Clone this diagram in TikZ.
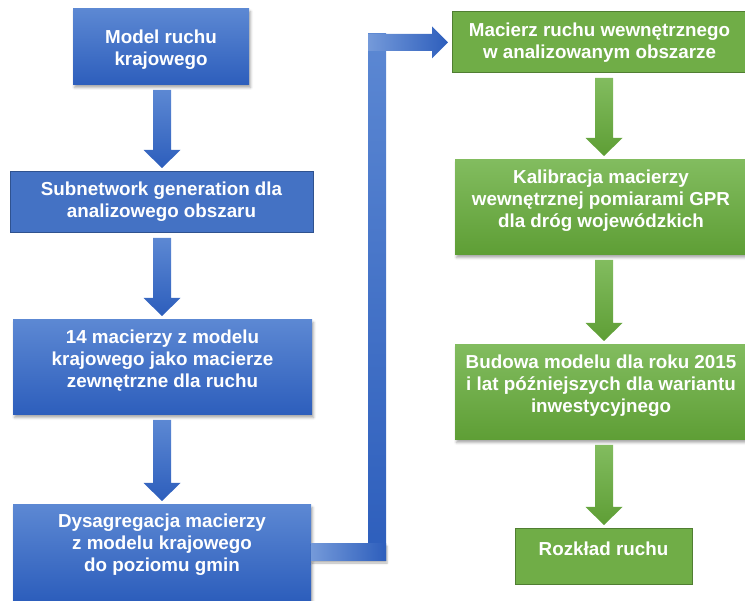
\documentclass[tikz,border=0pt]{standalone}
\usepackage{fontspec}
\setmainfont{Liberation Sans}
\usetikzlibrary{shadows.blur,calc}
\definecolor{bluetop}{HTML}{5C88D3}
\definecolor{bluebot}{HTML}{2D5EBC}
\definecolor{blueflat}{HTML}{4472C4}
\definecolor{blueline}{HTML}{2F528F}
\definecolor{greentop}{HTML}{82BC5F}
\definecolor{greenbot}{HTML}{5E9E35}
\definecolor{greenflat}{HTML}{70AD47}
\definecolor{greenline}{HTML}{507E32}
\newcommand{\vdownarrow}[5]{%
  \shade[top color=#4, bottom color=#5]
    let \p1=($(#1.south)+(0,5)$), \p2=($(#2.north)+(0,-4)$), \p3=(#3) in
    (\x3-9pt,\y1) -- (\x3+9pt,\y1) -- (\x3+9pt,\y2+18pt) -- (\x3+18.5pt,\y2+18pt)
    -- (\x3,\y2) -- (\x3-18.5pt,\y2+18pt) -- (\x3-9pt,\y2+18pt) -- cycle;}
\begin{document}
\begin{tikzpicture}[x=1pt,y=-1pt,
  box/.style={rectangle, inner sep=0pt, outer sep=0pt},
  soft/.style={blur shadow={shadow xshift=1.5pt, shadow yshift=-2.5pt, shadow blur radius=2.5pt, shadow opacity=35}},
  bluegrad/.style={box, soft, top color=bluetop, bottom color=bluebot},
  blueplain/.style={box, fill=blueflat, draw=blueline, line width=1pt},
  greengrad/.style={box, soft, top color=greentop, bottom color=greenbot},
  greenplain/.style={box, fill=greenflat, draw=greenline, line width=1pt},
  txt/.style={text=white, font=\fontsize{18.8}{22}\selectfont\bfseries, align=center, inner sep=0pt},
]
\useasboundingbox (0,0) rectangle (745,601);

% left column boxes
\node[bluegrad, minimum width=176pt, minimum height=76pt] (b1) at (161,47) {};
\node[blueplain, minimum width=303pt, minimum height=61pt] (b2) at (161.5,202.5) {};
\node[bluegrad, minimum width=299pt, minimum height=95pt] (b3) at (162.5,367.5) {};
\node[bluegrad, minimum width=298pt, minimum height=95pt] (b4) at (162,552.5) {};

% right column boxes
\node[greenplain, minimum width=295pt, minimum height=61pt] (g1) at (599.5,42.5) {};
\node[greengrad, minimum width=292pt, minimum height=95pt] (g2) at (601,207.5) {};
\node[greengrad, minimum width=292pt, minimum height=95pt] (g3) at (601,392.5) {};
\node[greenplain, minimum width=177pt, minimum height=56pt] (g4) at (603.5,557) {};

% texts
\node[txt] (t1) at ([yshift=-3pt]b1.center) {Model ruchu\\krajowego};
\node[txt] (t2) at ([yshift=1pt]b2.center) {Subnetwork generation dla\\analizowego obszaru};
\node[txt] (t3) at ([yshift=7pt]b3.center) {14 macierzy z modelu\\krajowego jako macierze\\zewnętrzne dla ruchu};
\node[txt] (t4) at ([yshift=8pt]b4.center) {Dysagregacja macierzy\\z modelu krajowego\\do poziomu gmin};
\node[txt] (t5) at (g1.center) {Macierz ruchu wewnętrznego\\w analizowanym obszarze};
\node[txt] (t6) at ([yshift=7pt]g2.center) {Kalibracja macierzy\\wewnętrznej pomiarami GPR\\dla dróg wojewódzkich};
\node[txt] (t7) at ([yshift=7pt]g3.center) {Budowa modelu dla roku 2015\\i lat późniejszych dla wariantu\\inwestycyjnego};
\node[txt] (t8) at ([yshift=8pt]g4.center) {Rozkład ruchu};

% axis coordinates for the block arrows
\coordinate (bx) at (162,0);
\coordinate (gx) at (604,0);
\coordinate (elbowx) at (377,0);

% vertical block arrows
\vdownarrow{b1}{b2}{bx}{bluetop}{bluebot}
\vdownarrow{b2}{b3}{bx}{bluetop}{bluebot}
\vdownarrow{b3}{b4}{bx}{bluetop}{bluebot}
\vdownarrow{g1}{g2}{gx}{greentop}{greenbot}
\vdownarrow{g2}{g3}{gx}{greentop}{greenbot}
\vdownarrow{g3}{g4}{gx}{greentop}{greenbot}

% elbow arrow from left column to right column: vertical part
\shade[top color=bluetop, bottom color=bluebot]
  let \p1=(b4.east), \p2=($(g1.west)+(-4,0)$), \p3=(elbowx) in
  (\x3-9pt,\y1-8.5pt) rectangle (\x3+9pt,\y2+8.5pt);
% upper part with head
\shade[left color=bluetop!85!white, right color=bluebot]
  let \p1=(b4.east), \p2=($(g1.west)+(-4,0)$), \p3=(elbowx) in
  (\x3-9pt,\y2+8.5pt) -- (\x2-16pt,\y2+8.5pt) -- (\x2-16pt,\y2+16pt) -- (\x2,\y2)
  -- (\x2-16pt,\y2-16pt) -- (\x2-16pt,\y2-8.5pt) -- (\x3-9pt,\y2-8.5pt) -- cycle;
% lower part
\shade[left color=bluetop!85!white, right color=bluebot, blur shadow={shadow xshift=1pt, shadow yshift=-2pt, shadow blur radius=2pt, shadow opacity=30}]
  let \p1=(b4.east), \p3=(elbowx) in
  (\x1,\y1+8.5pt) rectangle (\x3+9pt,\y1-8.5pt);
\end{tikzpicture}
\end{document}
